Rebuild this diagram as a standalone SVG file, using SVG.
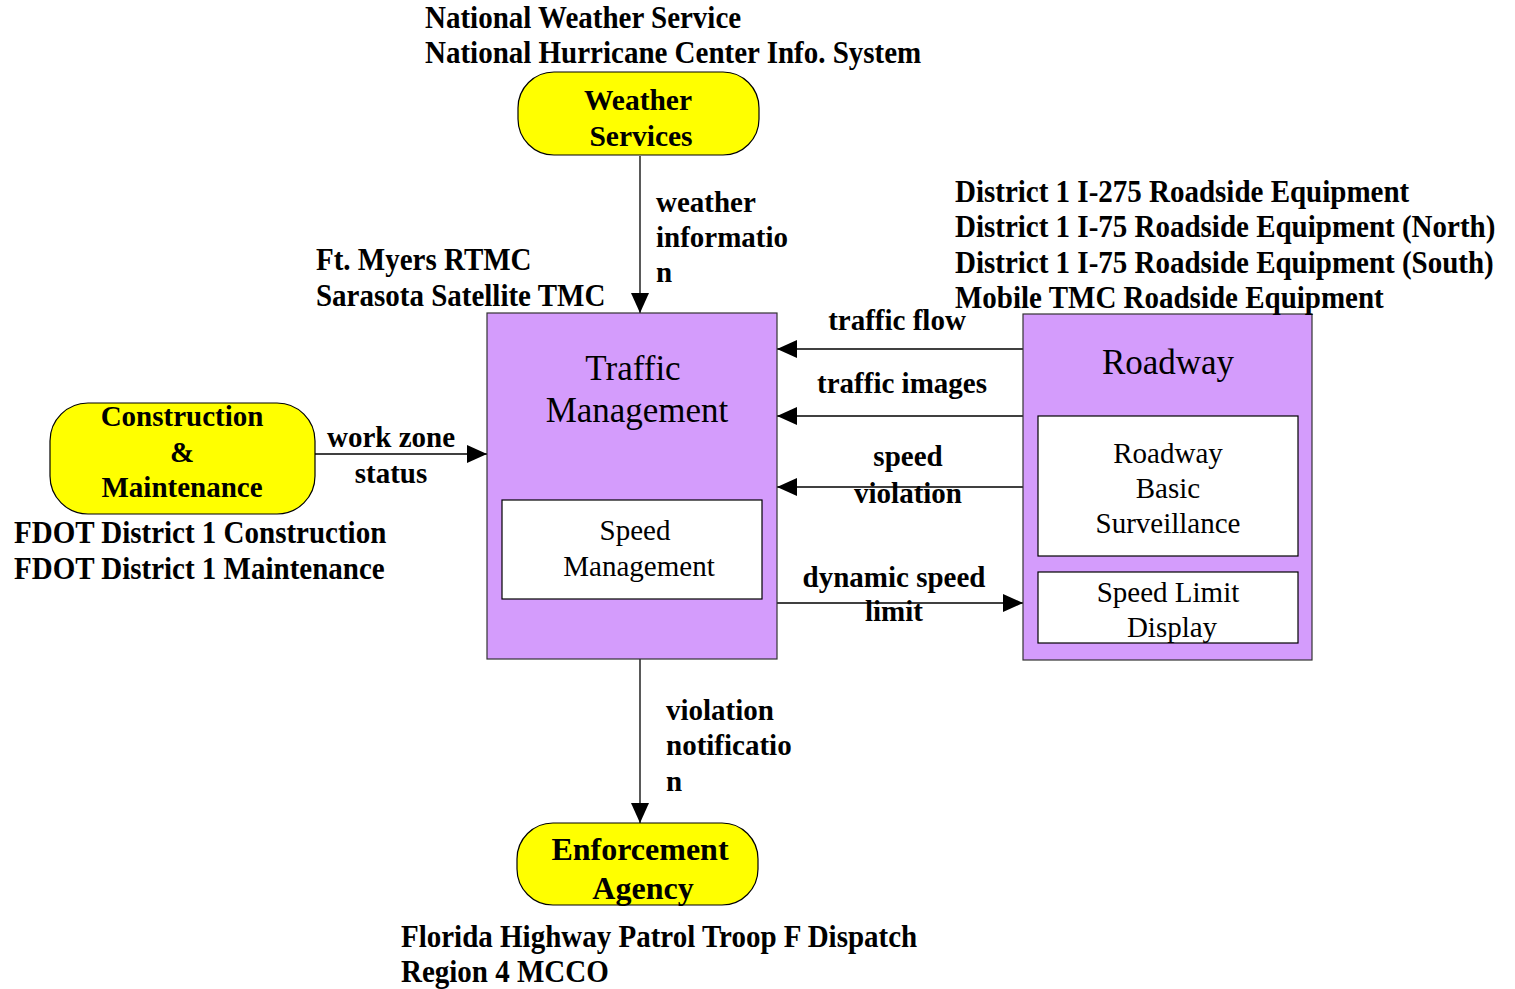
<svg xmlns="http://www.w3.org/2000/svg" width="1515" height="989" viewBox="0 0 1515 989">
<defs>
<marker id="arr" markerUnits="userSpaceOnUse" markerWidth="22" markerHeight="20" refX="20" refY="9" orient="auto">
<path d="M0,0 L20,9 L0,18 Z" fill="#000"/>
</marker>
</defs>
<style>
.b{font-family:"Liberation Serif",serif;font-weight:bold;font-size:29px;fill:#000}
.n{font-family:"Liberation Serif",serif;font-size:29px;fill:#000}
.big{font-size:35px}
.ext{fill:#ffff00;stroke:#000;stroke-width:1.2}
.sub{fill:#d49cfc;stroke:#333;stroke-width:1.2}
.box{fill:#fff;stroke:#000;stroke-width:1.2}
.c{stroke:#000;stroke-width:1.3;fill:none;marker-end:url(#arr)}
</style>
<rect width="1515" height="989" fill="#fff"/>
<g id="connectors">
<line class="c" x1="640" y1="156" x2="640" y2="313"/>
<line class="c" x1="640" y1="659" x2="640" y2="823"/>
<line class="c" x1="315" y1="454" x2="487" y2="454"/>
<line class="c" x1="1023" y1="349" x2="777" y2="349"/>
<line class="c" x1="1023" y1="416" x2="777" y2="416"/>
<line class="c" x1="1023" y1="487" x2="777" y2="487"/>
<line class="c" x1="777" y1="603" x2="1023" y2="603"/>
</g>
<g id="labels">
<text class="b" x="656" y="212">weather</text>
<text class="b" x="656" y="247">informatio</text>
<text class="b" x="656" y="282">n</text>
<text class="b" x="666" y="720">violation</text>
<text class="b" x="666" y="755">notificatio</text>
<text class="b" x="666" y="791">n</text>
<text class="b" x="391" y="447" text-anchor="middle">work zone</text>
<text class="b" x="391" y="483" text-anchor="middle">status</text>
<text class="b" x="897" y="330" text-anchor="middle">traffic flow</text>
<text class="b" x="902" y="393" text-anchor="middle">traffic images</text>
<text class="b" x="908" y="466" text-anchor="middle">speed</text>
<text class="b" x="908" y="503" text-anchor="middle">violation</text>
<text class="b" x="894" y="587" text-anchor="middle">dynamic speed</text>
<text class="b" x="894" y="621" text-anchor="middle">limit</text>
</g>
<g id="weather">
<rect class="ext" x="518" y="72" width="241" height="83" rx="36"/>
<text class="b" style="font-size:29.5px" x="638" y="110" text-anchor="middle">Weather</text>
<text class="b" style="font-size:29.5px" x="641" y="146" text-anchor="middle">Services</text>
<g transform="translate(425,28) scale(1,1.08)">
<text class="b" x="0" y="0">National Weather Service</text>
<text class="b" x="0" y="32.4">National Hurricane Center Info. System</text>
</g>
</g>
<g id="construction">
<rect class="ext" x="50" y="403" width="265" height="111" rx="38"/>
<text class="b" x="182" y="426" text-anchor="middle">Construction</text>
<text class="b" x="182" y="462" text-anchor="middle">&amp;</text>
<text class="b" x="182" y="497" text-anchor="middle">Maintenance</text>
<g transform="translate(14,543) scale(1,1.08)">
<text class="b" x="0" y="0">FDOT District 1 Construction</text>
<text class="b" x="0" y="33.3">FDOT District 1 Maintenance</text>
</g>
</g>
<g id="traffic">
<rect class="sub" x="487" y="313" width="290" height="346"/>
<text class="n big" x="633" y="380" text-anchor="middle">Traffic</text>
<text class="n big" x="637" y="422" text-anchor="middle">Management</text>
<rect class="box" x="502" y="500" width="260" height="99"/>
<text class="n" x="635" y="540" text-anchor="middle">Speed</text>
<text class="n" x="639" y="576" text-anchor="middle">Management</text>
<g transform="translate(316,270) scale(1,1.08)">
<text class="b" x="0" y="0">Ft. Myers RTMC</text>
<text class="b" x="0" y="33.3">Sarasota Satellite TMC</text>
</g>
</g>
<g id="roadway">
<rect class="sub" x="1023" y="314" width="289" height="346"/>
<text class="n big" x="1168" y="374" text-anchor="middle">Roadway</text>
<rect class="box" x="1038" y="416" width="260" height="140"/>
<text class="n" x="1168" y="463" text-anchor="middle">Roadway</text>
<text class="n" x="1168" y="498" text-anchor="middle">Basic</text>
<text class="n" x="1168" y="533" text-anchor="middle">Surveillance</text>
<rect class="box" x="1038" y="572" width="260" height="71"/>
<text class="n" x="1168" y="602" text-anchor="middle">Speed Limit</text>
<text class="n" x="1172" y="637" text-anchor="middle">Display</text>
<g transform="translate(955,202) scale(1,1.08)">
<text class="b" x="0" y="0">District 1 I-275 Roadside Equipment</text>
<text class="b" x="0" y="32.6">District 1 I-75 Roadside Equipment (North)</text>
<text class="b" x="0" y="65.3">District 1 I-75 Roadside Equipment (South)</text>
<text class="b" x="0" y="97.7">Mobile TMC Roadside Equipment</text>
</g>
</g>
<g id="enforcement">
<rect class="ext" x="517" y="823" width="241" height="82" rx="36"/>
<text class="b" style="font-size:32px" x="640" y="860" text-anchor="middle">Enforcement</text>
<text class="b" style="font-size:32px" x="643" y="899" text-anchor="middle">Agency</text>
<g transform="translate(401,947) scale(1,1.08)">
<text class="b" x="0" y="0">Florida Highway Patrol Troop F Dispatch</text>
<text class="b" x="0" y="32.4">Region 4 MCCO</text>
</g>
</g>
</svg>
